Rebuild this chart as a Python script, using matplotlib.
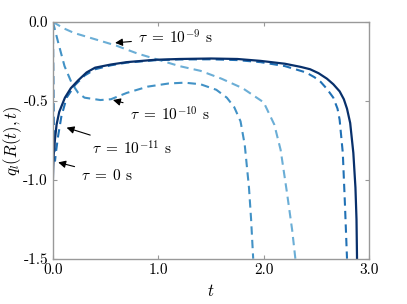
import matplotlib
matplotlib.use("Agg")
import matplotlib.pyplot as plt

plt.rcParams['font.family'] = ['cmr10', 'DejaVu Serif']
plt.rcParams['mathtext.fontset'] = 'cm'
plt.rcParams['axes.unicode_minus'] = False

# tau = 0 s
t_0 = [0.0, 0.003, 0.008, 0.02, 0.035, 0.06, 0.114, 0.17, 0.24, 0.32, 0.4, 0.55, 0.7,
       0.97, 1.2, 1.5, 1.75, 1.97, 2.2, 2.35, 2.44, 2.52, 2.6, 2.66, 2.72, 2.76, 2.79,
       2.82, 2.85, 2.87, 2.88, 2.885]
q_0 = [-1.0, -0.92, -0.84, -0.74, -0.65, -0.57, -0.48, -0.42, -0.37, -0.32, -0.29, -0.27,
       -0.255, -0.24, -0.235, -0.232, -0.235, -0.247, -0.265, -0.285, -0.30, -0.325, -0.36,
       -0.395, -0.44, -0.49, -0.55, -0.64, -0.83, -1.05, -1.25, -1.5]

# tau = 1e-11 s
t_11 = [0.0, 0.004, 0.008, 0.013, 0.02, 0.03, 0.05, 0.08, 0.13, 0.21, 0.3, 0.4, 0.55, 0.7,
        0.97, 1.2, 1.5, 1.75, 1.97, 2.2, 2.4, 2.48, 2.54, 2.6, 2.66, 2.7, 2.72, 2.75, 2.77, 2.79]
q_11 = [0.0, -0.3, -0.6, -0.8, -0.88, -0.82, -0.72, -0.6, -0.48, -0.4, -0.34, -0.3, -0.275,
        -0.258, -0.243, -0.238, -0.237, -0.242, -0.255, -0.28, -0.32, -0.35, -0.38, -0.425,
        -0.48, -0.55, -0.62, -0.83, -1.15, -1.5]

# tau = 1e-10 s
t_10 = [0.0, 0.05, 0.11, 0.18, 0.24, 0.3, 0.45, 0.55, 0.7, 0.9, 1.1, 1.25, 1.4, 1.55,
        1.65, 1.72, 1.78, 1.82, 1.86, 1.88, 1.90]
q_10 = [0.0, -0.13, -0.28, -0.39, -0.45, -0.48, -0.495, -0.49, -0.45, -0.41, -0.39, -0.385,
        -0.395, -0.43, -0.48, -0.54, -0.63, -0.78, -1.05, -1.25, -1.5]

# tau = 1e-9 s
t_9 = [0.0, 0.1, 0.2, 0.4, 0.6, 0.8, 1.0, 1.2, 1.4, 1.6, 1.8, 2.0, 2.1, 2.16, 2.22, 2.27, 2.30]
q_9 = [0.0, -0.04, -0.07, -0.11, -0.15, -0.2, -0.24, -0.28, -0.31, -0.36, -0.42, -0.51,
       -0.65, -0.81, -1.08, -1.32, -1.5]

fig = plt.figure(figsize=(4.07, 3.04), dpi=100)
ax = fig.add_axes([0.130, 0.149, 0.777, 0.779])

ax.plot(t_9, q_9, color='#6baed6', lw=1.5, ls=(0, (4, 2.5)))
ax.plot(t_10, q_10, color='#4292c6', lw=1.5, ls=(0, (4, 2.5)))
ax.plot(t_11, q_11, color='#2171b5', lw=1.5, ls=(0, (4, 2.5)))
ax.plot(t_0, q_0, color='#08306b', lw=1.6)

ax.set_xlim(0, 3)
ax.set_ylim(-1.5, 0)
ax.set_xticks([0, 1, 2, 3])
ax.set_xticklabels(['0.0', '1.0', '2.0', '3.0'])
ax.set_yticks([0, -0.5, -1.0, -1.5])
ax.set_yticklabels(['0.0', '-0.5', '-1.0', '-1.5'])
ax.tick_params(direction='in', top=True, right=True, length=3, color='#999999',
               labelsize=11)
for s in ax.spines.values():
    s.set_color('#999999')
    s.set_linewidth(1.0)

ax.set_xlabel('$t$', fontsize=12)
ax.set_ylabel('$q_l(R(t),t)$', fontsize=12)
ax.yaxis.set_label_coords(-0.09, 0.5)

arr = dict(arrowstyle='-|>', color='black', lw=0.8, mutation_scale=11,
           shrinkA=3, shrinkB=0)
ax.annotate(r'$\tau\;=\;10^{-9}$ s', xy=(0.59, -0.133), xytext=(0.81, -0.10),
            fontsize=11, va='center', arrowprops=arr)
ax.annotate(r'$\tau\;=\;10^{-10}$ s', xy=(0.57, -0.495), xytext=(0.73, -0.59),
            fontsize=11, va='center', arrowprops=arr)
ax.annotate(r'$\tau\;=\;10^{-11}$ s', xy=(0.13, -0.67), xytext=(0.37, -0.80),
            fontsize=11, va='center', arrowprops=arr)
ax.annotate(r'$\tau\;=\;0$ s', xy=(0.05, -0.89), xytext=(0.27, -0.97),
            fontsize=11, va='center', arrowprops=arr)

fig.savefig('out.png', dpi=100)
